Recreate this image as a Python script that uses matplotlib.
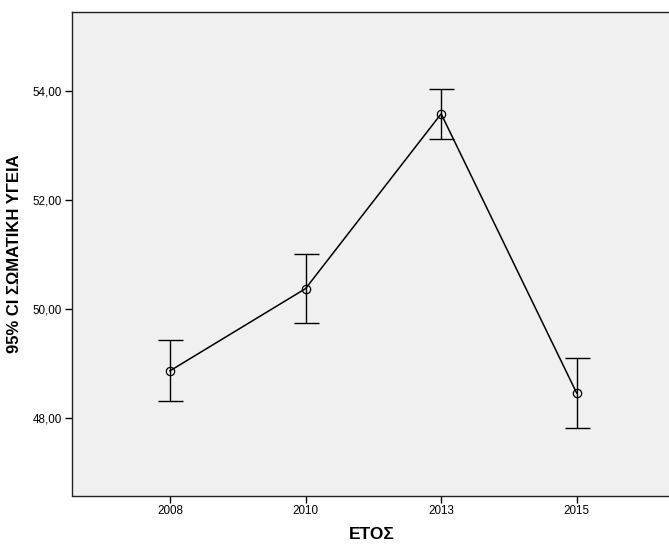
import matplotlib
matplotlib.use("Agg")
import matplotlib.pyplot as plt

plt.rcParams['font.family'] = ['Liberation Sans', 'DejaVu Sans']

years = ['2008', '2010', '2013', '2015']
means = [48.86, 50.37, 53.58, 48.45]
upper = [49.42, 51.01, 54.04, 49.09]
lower = [48.30, 49.74, 53.11, 47.81]
yticks = [48, 50, 52, 54]
ytick_labels = ['48,00', '50,00', '52,00', '54,00']

W, H = 669, 544
fig = plt.figure(figsize=(W / 100, H / 100), dpi=100)
# axes box: left 71.7px, top 12px, bottom 495px; right edge runs off the picture
ax = fig.add_axes([71.7 / W, 1 - 495.5 / H, (675 - 71.7) / W, (495.5 - 12) / H])
ax.set_facecolor('#F0F0F0')

x = list(range(len(years)))
err_lo = [m - l for m, l in zip(means, lower)]
err_hi = [u - m for u, m in zip(upper, means)]
ax.errorbar(x, means, yerr=[err_lo, err_hi], fmt='none', ecolor='black',
            elinewidth=1, capsize=9, capthick=1, zorder=2)
ax.plot(x, means, color='black', linewidth=1.1, marker='o', markersize=6,
        markerfacecolor='none', markeredgecolor='black', markeredgewidth=0.9, zorder=3)

ax.set_xlim(-0.725, 3.725)
ax.set_ylim(46.57, 55.45)
ax.set_xticks(x)
ax.set_xticklabels(years)
ax.set_yticks(yticks)
ax.set_yticklabels(ytick_labels)
ax.tick_params(axis='both', direction='out', length=5, width=1, labelsize=8.4,
               colors='black', pad=2)

for s in ax.spines.values():
    s.set_color('#222222')
    s.set_linewidth(1)

ax.set_xlabel('ΕΤΟΣ', fontsize=12.5, fontweight='bold', va='center')
ax.xaxis.set_label_coords(0.498, -0.08)
ax.set_ylabel('95% CI ΣΩΜΑΤΙΚΗ ΥΓΕΙΑ', fontsize=12, fontweight='bold', va='center')
ax.yaxis.set_label_coords(-0.094, 0.5)

fig.savefig('out.png', dpi=100)
